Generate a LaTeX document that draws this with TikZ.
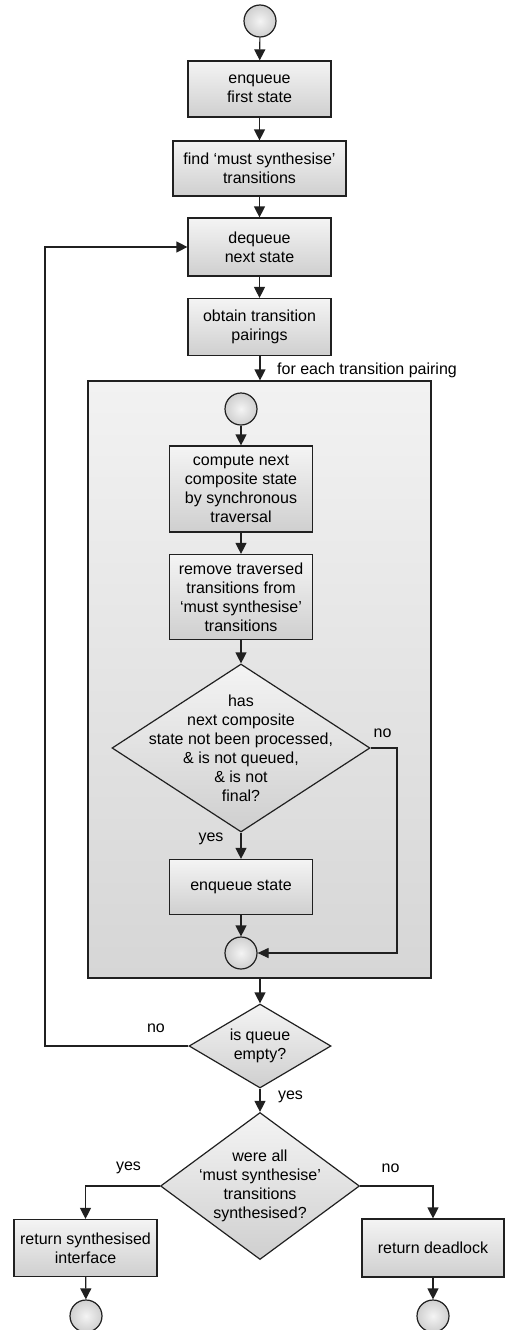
\documentclass[tikz,border=0pt]{standalone}
\usepackage{fontspec}
\setmainfont{Liberation Sans}
\usetikzlibrary{arrows.meta,shapes.geometric,calc}
\definecolor{ln}{HTML}{202020}
\definecolor{btop}{HTML}{F4F4F4}
\definecolor{bbot}{HTML}{CFCFCF}
\definecolor{ctop}{HTML}{F2F2F2}
\definecolor{cbot}{HTML}{D6D6D6}
\tikzset{
  base/.style={draw=ln, line width=1.2pt, font=\fontsize{16}{19}\selectfont, align=center, inner sep=0pt},
  boxn/.style={base, rectangle, top color=btop, bottom color=bbot},
  circn/.style={base, circle, minimum size=32pt, inner color=btop, outer color=bbot},
  decn/.style={base, diamond, top color=btop, bottom color=bbot},
  contn/.style={draw=ln, line width=1.2pt, rectangle, top color=ctop, bottom color=cbot, inner sep=0pt},
  txt/.style={font=\fontsize{16}{19}\selectfont, align=center, inner sep=0pt},
  arr/.style={draw=ln, line width=1.2pt, -{Triangle[length=11pt,width=11pt]}},
  arrs/.style={draw=ln, line width=1.2pt, -{Triangle[length=11pt,width=10pt]}},
}
\begin{document}
\begin{tikzpicture}[x=1pt,y=-1pt]
\useasboundingbox (0,0) rectangle (505,1330);
% container
\node[contn, minimum width=343pt, minimum height=597pt] (cont) at (259.5,679.5) {};
% top chain
\node[circn] (s0) at (260,21) {};
\node[boxn, minimum width=143pt, minimum height=56pt] (b1) at (259.5,89) {enqueue\\first state};
\node[boxn, minimum width=173pt, minimum height=55pt] (b2) at (259.5,168.5) {find ‘must synthesise’\\transitions};
\node[boxn, minimum width=143pt, minimum height=58pt] (b3) at (259.5,247) {dequeue\\next state};
\node[boxn, minimum width=143pt, minimum height=57pt] (b4) at (259.5,327) {obtain transition\\pairings};
% inside container
\node[circn] (c1) at (241,409) {};
\node[boxn, minimum width=143pt, minimum height=86pt] (b5) at (241,489) {compute next\\composite state\\by synchronous\\traversal};
\node[boxn, minimum width=143pt, minimum height=85pt] (b6) at (241,597) {remove traversed\\transitions from\\‘must synthesise’\\transitions};
\node[decn, minimum width=258pt, minimum height=168pt] (d1) at (241,748) {};
\node[txt] (d1t) at (241,748) {has\\next composite\\state not been processed,\\\& is not queued,\\\& is not\\final?};
\node[boxn, minimum width=143pt, minimum height=55pt] (b7) at (241,887) {enqueue state};
\node[circn] (c2) at (241,953) {};
% bottom
\node[decn, minimum width=142pt, minimum height=84pt] (d2) at (260,1046) {};
\node[txt] (d2t) at (260,1046) {is queue\\empty?};
\node[decn, minimum width=199pt, minimum height=147pt] (d3) at (260,1186) {};
\node[txt] (d3t) at (260,1186) {were all\\‘must synthesise’\\transitions\\synthesised?};
\node[boxn, minimum width=143pt, minimum height=57pt] (b8) at (85.5,1248) {return synthesised\\interface};
\node[boxn, minimum width=142pt, minimum height=58pt] (b9) at (433,1248) {return deadlock};
\node[circn] (c3) at (86,1316) {};
\node[circn] (c4) at (433,1316) {};
% labels
\node[txt, anchor=west] (lfe) at (277,370) {for each transition pairing};
\node[txt] (lno1) at (382.5,733) {no};
\node[txt] (lyes1) at (211,839) {yes};
\node[txt] (lno2) at (156,1028) {no};
\node[txt] (lyes2) at (290.5,1097) {yes};
\node[txt] (lyes3) at (128.5,1168) {yes};
\node[txt] (lno3) at (390.5,1168) {no};
% coordinates
\coordinate (nr) at (397,748);
\coordinate (lp) at (45,1046);
% connectors
\draw[arr] (s0) -- (b1);
\draw[arr] (b1) -- (b2);
\draw[arr] (b2) -- (b3);
\draw[arr] (b3) -- (b4);
\draw[arr] (b4.south -| s0) -- (s0 |- cont.north);
\draw[arr] (c1) -- (b5);
\draw[arr] (b5) -- (b6);
\draw[arr] (b6) -- (d1.north);
\draw[arr] (d1.south) -- (b7);
\draw[arr] (b7) -- (c2);
\draw[arrs] (d1.east) -- (nr) |- (c2.east);
\draw[arr] (s0 |- cont.south) -- (d2.north);
\draw[arr] (d2.west) -- (lp) |- (b3.west);
\draw[arr] (d2.south) -- (d3.north);
\draw[arr] (d3.west) -| (b8.north);
\draw[arr] (d3.east) -| (b9.north);
\draw[arr] (b8) -- (c3);
\draw[arr] (b9) -- (c4);
\end{tikzpicture}
\end{document}
